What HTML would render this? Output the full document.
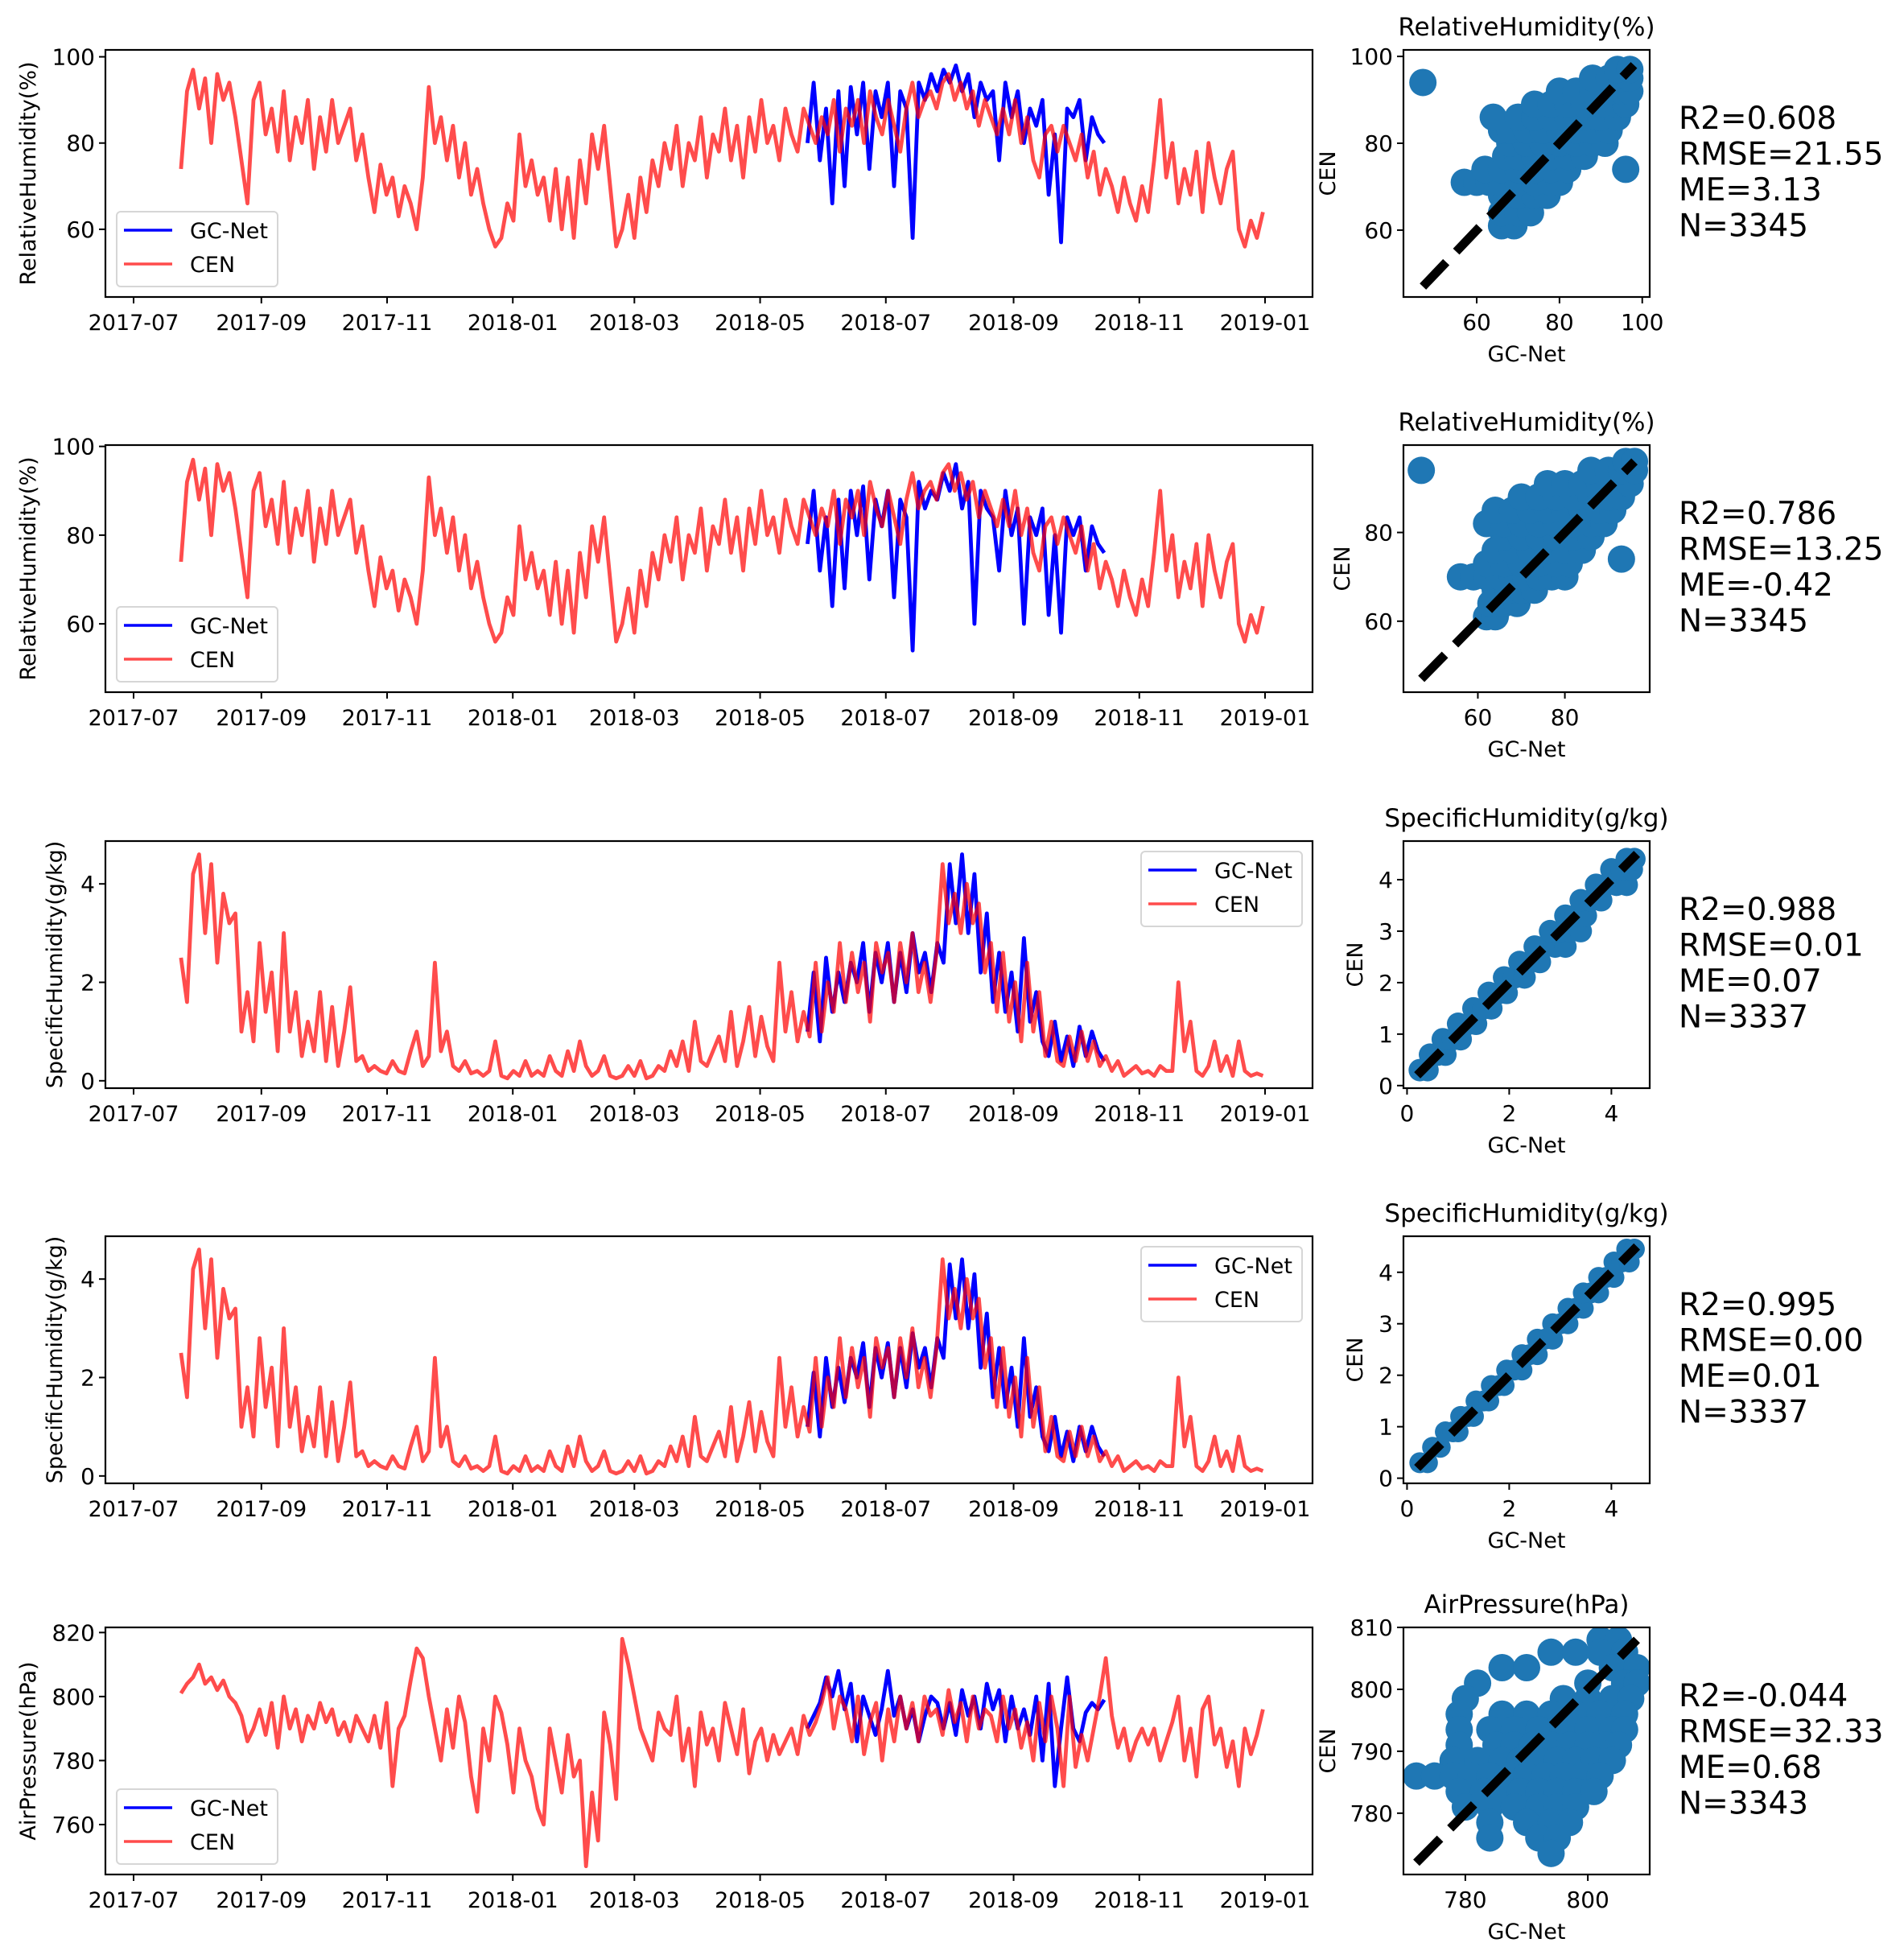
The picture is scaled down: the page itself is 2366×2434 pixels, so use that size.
<!DOCTYPE html>
<html><head><meta charset="utf-8"><style>
html,body{margin:0;padding:0;background:#fff}
svg{display:block}
text{font-family:"DejaVu Sans","Liberation Sans",sans-serif;fill:#000}
</style></head><body>
<svg id="fig" width="2366" height="2434" viewBox="0 0 2366 2434" xmlns="http://www.w3.org/2000/svg"></svg>
<script>
// ---------- DATA ----------
const cenStart = "2017-07-24";
const cenEnd = "2018-12-31";
const gcStart = "2018-05-24";
const gcStepDays = 3;
const dateTicks = ["2017-07","2017-09","2017-11","2018-01","2018-03","2018-05","2018-07","2018-09","2018-11","2019-01"];

const cenRH = [74,92,97,88,95,80,96,90,94,86, 76,66,90,94,82,88,78,92,76,86, 80,90,74,86,78,90,80,84,88,76,
 82,72,64,75,68,72,63,70,66,60, 72,93,80,86,76,84,72,80,68,74, 66,60,56,58,66,62,82,70,76,68,
 72,62,74,60,72,58,76,66,82,74, 84,70,56,60,68,58,72,64,76,70, 80,74,84,70,80,76,86,72,82,78,
 88,76,84,72,86,78,90,80,84,76, 88,82,78,88,84,80,86,82,90,78, 88,84,90,80,92,86,82,90,84,78,
 88,94,86,90,92,88,94,96,90,94, 88,92,84,90,86,82,88,82,90,80, 86,76,72,82,84,78,84,80,76,82,
 72,78,68,74,70,64,72,66,62,70, 64,76,90,72,80,66,74,68,78,64, 80,72,66,74,78,60,56,62,58,64];
const gcRH1 = [80,94,76,88,66,92,70,93,82,94,74,92,86,94,70,92,88,58,94,90,96,92,97,94,98,92,96,86,94,90,92,76,94,86,92,80,88,84,90,68,82,57,88,86,90,76,86,82,80];
const gcRH2 = [78,90,72,84,64,88,68,90,80,91,70,88,82,90,66,88,84,54,92,86,90,88,94,90,96,86,92,60,90,86,84,72,90,80,86,60,84,80,86,62,80,58,84,80,84,72,82,78,76];

const cenSH = [2.5,1.6,4.2,4.6,3.0,4.4,2.4,3.8,3.2,3.4, 1.0,1.8,0.8,2.8,1.4,2.2,0.6,3.0,1.0,1.8, 0.5,1.2,0.6,1.8,0.4,1.5,0.3,1.0,1.9,0.4,
 0.5,0.2,0.3,0.2,0.15,0.4,0.2,0.15,0.6,1.0, 0.3,0.5,2.4,0.6,1.0,0.3,0.2,0.4,0.15,0.2, 0.1,0.2,0.8,0.1,0.05,0.2,0.1,0.4,0.1,0.2,
 0.1,0.5,0.2,0.1,0.6,0.2,0.8,0.3,0.1,0.2, 0.5,0.1,0.05,0.1,0.3,0.1,0.4,0.05,0.1,0.3, 0.2,0.6,0.3,0.8,0.2,1.2,0.4,0.3,0.6,0.9,
 0.4,1.4,0.3,0.8,1.5,0.5,1.3,0.7,0.4,2.4, 1.0,1.8,0.8,1.4,0.9,2.4,1.0,2.0,1.4,2.8, 1.6,2.6,1.8,2.4,1.2,2.8,2.2,2.6,1.6,2.8,
 2.0,3.0,1.8,2.4,1.6,2.6,4.4,3.2,3.8,3.0, 4.0,3.2,3.6,2.2,2.8,1.4,2.6,1.2,2.0,0.8, 2.4,1.0,1.8,0.5,1.2,0.4,0.3,0.9,0.4,1.0,
 0.4,0.8,0.3,0.5,0.2,0.4,0.1,0.2,0.3,0.15, 0.2,0.1,0.3,0.2,0.2,2.0,0.6,1.2,0.2,0.1, 0.3,0.8,0.2,0.5,0.1,0.8,0.2,0.1,0.15,0.1];
const gcSH1 = [1.0,2.2,0.8,2.5,1.4,2.2,1.6,2.4,2.0,2.8,1.4,2.6,2.0,2.8,1.6,2.6,1.8,3.0,2.2,2.6,1.8,2.8,2.4,4.4,3.2,4.6,3.0,4.2,2.2,3.4,1.6,2.6,1.4,2.2,1.0,2.9,1.2,1.8,0.8,0.5,1.2,0.4,0.9,0.3,1.1,0.5,1.0,0.6,0.4];
const gcSH2 = [1.0,2.1,0.8,2.4,1.4,2.2,1.5,2.4,2.0,2.7,1.4,2.6,2.0,2.7,1.6,2.6,1.8,2.9,2.2,2.6,1.8,2.8,2.4,4.3,3.2,4.4,3.0,4.1,2.2,3.3,1.6,2.6,1.4,2.2,1.0,2.8,1.2,1.8,0.8,0.5,1.2,0.4,0.9,0.3,1.0,0.5,1.0,0.6,0.4];

const cenAP = [801,804,806,810,804,806,802,805,800,798, 794,786,790,796,788,798,784,800,790,796, 786,794,790,798,792,796,788,792,786,794,
 790,786,794,784,798,772,790,794,805,815, 812,800,790,780,796,784,800,792,775,764, 790,780,800,795,785,770,790,780,775,765,
 760,790,780,770,788,775,780,747,770,755, 795,785,768,818,810,800,790,785,780,795, 790,788,800,780,790,772,795,785,790,780,
 798,790,782,796,776,786,790,780,788,782, 786,790,782,794,788,792,798,806,790,800, 796,786,800,782,792,798,780,796,786,800,
 790,798,786,800,794,796,788,802,792,798, 786,800,790,796,794,786,800,790,796,784, 792,780,798,786,800,790,772,800,778,788,
 780,790,800,812,794,784,790,780,786,790, 785,790,780,786,792,800,780,790,775,796, 800,785,790,778,786,772,790,782,788,796];
const gcAP = [790,794,798,806,800,808,796,804,786,800,794,788,796,808,794,800,790,796,786,794,800,798,790,798,788,802,794,800,790,804,796,802,786,800,790,796,788,800,780,804,772,790,806,790,786,795,798,796,799];

// scatter clouds: [CEN value, [GC values at that CEN level]]
const scatterRH1 = [[61,[66,69]],[64,[66,70,73]],[68,[66,70,74,77]],[71,[57,60,63,66,70,74,78,80]],[74,[62,66,70,74,78,82]],
 [77,[67,70,74,78,82,86]],[80,[68,72,76,80,84,88,91]],[83,[66,68,72,76,80,84,88,92]],[86,[64,70,74,78,82,86,90,94]],
 [89,[74,78,82,86,90,94,96]],[92,[80,84,88,92,95,97]],[95,[88,92,95,97]],[97,[94,97]],[94,[47]],[74,[96]]];
const scatterRH2 = [[61,[62,64]],[64,[63,66,69]],[67,[64,67,70,73]],[70,[56,59,62,65,68,71,74,77,80]],[73,[62,66,70,74,78,81]],
 [76,[64,68,72,76,80,84]],[79,[66,70,74,78,82,86]],[82,[62,66,70,74,78,82,86,89]],[85,[64,68,72,76,80,84,88,91]],
 [88,[70,74,78,82,86,90,93]],[91,[76,80,84,88,92,95]],[94,[86,90,93,96]],[96,[94,96]],[94,[47]],[74,[93]]];
const scatterSH1 = [[0.3,[0.25,0.4]],[0.6,[0.45,0.6,0.75]],[0.9,[0.7,0.9,1.05]],[1.2,[1.0,1.2,1.35]],[1.5,[1.3,1.5,1.65]],
 [1.8,[1.6,1.8,1.95]],[2.1,[1.9,2.1,2.3]],[2.4,[2.2,2.4,2.6]],[2.7,[2.5,2.7,2.9,3.1]],[3.0,[2.8,3.0,3.2,3.4]],
 [3.3,[3.1,3.3,3.5]],[3.6,[3.4,3.6,3.8]],[3.9,[3.7,3.9,4.1,4.3]],[4.2,[4.0,4.2,4.4]],[4.4,[4.3,4.45]]];
const scatterSH2 = [[0.3,[0.25,0.4]],[0.6,[0.5,0.65]],[0.9,[0.75,0.9,1.0]],[1.2,[1.05,1.2,1.3]],[1.5,[1.35,1.5,1.6]],
 [1.8,[1.65,1.8,1.9]],[2.1,[1.95,2.1,2.25]],[2.4,[2.25,2.4,2.55]],[2.7,[2.55,2.7,2.85]],[3.0,[2.85,3.0,3.15]],
 [3.3,[3.15,3.3,3.45]],[3.6,[3.45,3.6,3.75]],[3.9,[3.75,3.9,4.05]],[4.2,[4.05,4.2,4.35]],[4.45,[4.3,4.45]]];
const scatterAP = [[808,[802,805]],[806,[794,798,802,806]],[803.5,[786,790,804,808]],[801,[782,800,806,808]],
 [798.5,[780,796,800,804,807]],[796,[779,786,790,794,798,802,806]],[793.5,[779,784,788,792,796,800,804,806]],
 [791,[779,785,788,791,794,797,800,803,805]],[788.5,[778,782,786,789,792,795,798,801,804]],
 [786,[772,775,778,781,784,787,790,793,796,799,802]],[783.5,[779,783,786,789,792,795,798,801]],
 [781,[780,784,788,792,795,798]],[778.5,[784,790,794,797]],[776,[784,792,795]],[773.5,[794]]];

const statsRows = [
 ["R2=0.608","RMSE=21.55","ME=3.13","N=3345"],
 ["R2=0.786","RMSE=13.25","ME=-0.42","N=3345"],
 ["R2=0.988","RMSE=0.01","ME=0.07","N=3337"],
 ["R2=0.995","RMSE=0.00","ME=0.01","N=3337"],
 ["R2=-0.044","RMSE=32.33","ME=0.68","N=3343"]];

// ---------- RENDER ----------
const NS="http://www.w3.org/2000/svg";
const svg=document.getElementById('fig');
function el(tag,attrs,parent){const e=document.createElementNS(NS,tag);for(const k in attrs)e.setAttribute(k,attrs[k]);(parent||svg).appendChild(e);return e;}
const DAY=86400000;
const d0=Date.parse("2017-07-01"), pxPerDay=2.561, tick0X=166;
function xDate(t){return tick0X+(t-d0)/DAY*pxPerDay;}
const LX0=131,LX1=1631,SX0=1744,SX1=2050,H=307;
const tops=[62,553,1045,1536,2022];

const rows=[
 {label:"RelativeHumidity(%)",cen:cenRH,gc:gcRH1,sc:scatterRH1,rad:17,yr:[44.3,101.6],yt:[60,80,100],leg:"ll",
  sx:[42.3,101.8],sy:[44.6,101.5],sxt:[60,80,100],syt:[60,80,100],diag:[47,98],ylx:35,cenx:1650},
 {label:"RelativeHumidity(%)",cen:cenRH,gc:gcRH2,sc:scatterRH2,rad:17,yr:[44.6,100.3],yt:[60,80,100],leg:"ll",
  sx:[42.9,99.5],sy:[44,99.7],sxt:[60,80],syt:[60,80],diag:[47,96],ylx:35,cenx:1668},
 {label:"SpecificHumidity(g/kg)",cen:cenSH,gc:gcSH1,sc:scatterSH1,rad:14,yr:[-0.15,4.87],yt:[0,2,4],leg:"ur",
  sx:[-0.07,4.75],sy:[-0.05,4.75],sxt:[0,2,4],syt:[0,1,2,3,4],diag:[0.2,4.5],ylx:68,cenx:1684},
 {label:"SpecificHumidity(g/kg)",cen:cenSH,gc:gcSH2,sc:scatterSH2,rad:13,yr:[-0.15,4.87],yt:[0,2,4],leg:"ur",
  sx:[-0.07,4.75],sy:[-0.1,4.7],sxt:[0,2,4],syt:[0,1,2,3,4],diag:[0.2,4.5],ylx:68,cenx:1684},
 {label:"AirPressure(hPa)",cen:cenAP,gc:gcAP,sc:scatterAP,rad:17,yr:[744.4,821.6],yt:[760,780,800,820],leg:"ll",
  sx:[769.9,810.1],sy:[770.1,810],sxt:[780,800],syt:[780,790,800,810],diag:[772,808],ylx:35,cenx:1650}
];
const titles=["RelativeHumidity(%)","RelativeHumidity(%)","SpecificHumidity(g/kg)","SpecificHumidity(g/kg)","AirPressure(hPa)"];

const cs=Date.parse(cenStart), ce=Date.parse(cenEnd), gs=Date.parse(gcStart);
function cenDate(i,n){return cs+(ce-cs)*i/(n-1);}
function gcDate(i){return gs+i*gcStepDays*DAY;}

rows.forEach((R,ri)=>{
 const T=tops[ri],B=T+H;
 const g=el('g',{},svg);
  
 const y=v=>B-(v-R.yr[0])/(R.yr[1]-R.yr[0])*H;
 const pg=el('path',{d:R.gc.map((v,i)=>(i?'L':'M')+xDate(gcDate(i)).toFixed(1)+','+y(v).toFixed(1)).join(''),fill:'none',stroke:'#0000ff','stroke-width':4.8,'stroke-linejoin':'round'},g);
  
 const n=R.cen.length;
 const pc=el('path',{d:R.cen.map((v,i)=>(i?'L':'M')+xDate(cenDate(i,n)).toFixed(1)+','+y(v).toFixed(1)).join(''),fill:'none',stroke:'#ff0000','stroke-opacity':0.7,'stroke-width':4.8,'stroke-linejoin':'round'},g);
  
 const fr=el('rect',{x:LX0,y:T,width:LX1-LX0,height:H,fill:'none',stroke:'#000','stroke-width':2.2},g);
  
 R.yt.forEach(v=>{el('line',{x1:LX0-8,x2:LX0,y1:y(v),y2:y(v),stroke:'#000','stroke-width':2},g);
  const t=el('text',{x:LX0-13,y:y(v)+10,'text-anchor':'end','font-size':28},g);t.textContent=v;
   });
 dateTicks.forEach(s=>{const xx=xDate(Date.parse(s+"-01"));el('line',{x1:xx,x2:xx,y1:B,y2:B+8,stroke:'#000','stroke-width':2},g);
  const t=el('text',{x:xx,y:B+41,'text-anchor':'middle','font-size':27},g);t.textContent=s;
   });
 const yl=el('text',{x:0,y:0,'text-anchor':'middle','font-size':27,transform:`translate(${R.ylx+9},${(T+B)/2}) rotate(-90)`},g);
 yl.textContent=R.label;  
 let lx,ly; if(R.leg==='ll'){lx=145;ly=B-106;}else{lx=1418;ly=T+13;}
 const lg=el('g',{},g);  
 el('rect',{x:lx,y:ly,width:200,height:93,rx:5,fill:'#fff','fill-opacity':0.8,stroke:'#d6d6d6','stroke-width':2},lg);
 [['GC-Net','#0000ff',1],['CEN','#ff0000',0.7]].forEach((e,k)=>{const yy=ly+23+k*42;
  el('line',{x1:lx+9,x2:lx+69,y1:yy,y2:yy,stroke:e[1],'stroke-opacity':e[2],'stroke-width':3.5},lg);
  const t=el('text',{x:lx+91,y:yy+10,'font-size':27},lg);t.textContent=e[0];
   });
 // scatter
 const sg=el('g',{},svg);  
 const sxf=v=>SX0+(v-R.sx[0])/(R.sx[1]-R.sx[0])*(SX1-SX0);
 const syf=v=>B-(v-R.sy[0])/(R.sy[1]-R.sy[0])*H;
 const cp=el('clipPath',{id:'c'+ri},sg); el('rect',{x:SX0,y:T,width:SX1-SX0,height:H},cp);
 const inner=el('g',{'clip-path':`url(#c${ri})`},sg);
 R.sc.forEach(strip=>{const cy=strip[0];strip[1].forEach(cx=>{
  const c=el('circle',{cx:sxf(cx),cy:syf(cy),r:R.rad,fill:'#1f77b4'},inner);
   });});
 const dl=el('line',{x1:sxf(R.diag[0]),y1:syf(R.diag[0]),x2:sxf(R.diag[1]),y2:syf(R.diag[1]),stroke:'#000','stroke-width':11,'stroke-dasharray':'42,18'},inner);
  
 el('rect',{x:SX0,y:T,width:SX1-SX0,height:H,fill:'none',stroke:'#000','stroke-width':2.2},sg);
 R.syt.forEach(v=>{el('line',{x1:SX0-8,x2:SX0,y1:syf(v),y2:syf(v),stroke:'#000','stroke-width':2},sg);
  const t=el('text',{x:SX0-13,y:syf(v)+10,'text-anchor':'end','font-size':28},sg);t.textContent=v;
   });
 R.sxt.forEach(v=>{el('line',{x1:sxf(v),x2:sxf(v),y1:B,y2:B+8,stroke:'#000','stroke-width':2},sg);
  const t=el('text',{x:sxf(v),y:B+41,'text-anchor':'middle','font-size':28},sg);t.textContent=v;
   });
 const xl=el('text',{x:(SX0+SX1)/2,y:B+80,'text-anchor':'middle','font-size':27},sg);xl.textContent='GC-Net';
  
 const cl=el('text',{x:0,y:0,'text-anchor':'middle','font-size':27,transform:`translate(${R.cenx+9},${(T+B)/2}) rotate(-90)`},sg);cl.textContent='CEN';
  
 const ti=el('text',{x:(SX0+SX1)/2,y:T-18,'text-anchor':'middle','font-size':31},sg);ti.textContent=titles[ri];
  
 statsRows[ri].forEach((s,k)=>{const t=el('text',{x:2086,y:T+98+k*44.5,'font-size':39},sg);t.textContent=s;
   });
});
</script>
</body></html>
